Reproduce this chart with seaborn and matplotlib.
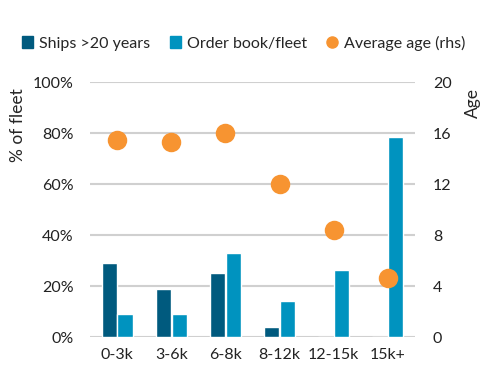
import numpy as np
import pandas as pd
import seaborn as sns
import matplotlib.pyplot as plt
from matplotlib.patches import Patch
from matplotlib.lines import Line2D

sizes = ["0-3k", "3-6k", "6-8k", "8-12k", "12-15k", "15k+"]
ships_over_20 = [29, 19, 25, 4, 0, 0]
order_book = [9, 9, 33, 14, 26.5, 78.5]
avg_age = [15.5, 15.3, 16.0, 12.0, 8.4, 4.6]

DARK = "#005a7e"
LIGHT = "#0093bf"
ORANGE = "#f79431"


def create_plot():
    sns.set_style("white")
    plt.rcParams["font.family"] = ["Lato", "DejaVu Sans"]

    df = pd.DataFrame({
        "size": sizes * 2,
        "value": ships_over_20 + order_book,
        "series": ["Ships >20 years"] * 6 + ["Order book/fleet"] * 6,
    })

    fig, ax = plt.subplots(figsize=(4.87, 3.75), dpi=100)
    fig.subplots_adjust(left=0.185, right=0.852, top=0.781, bottom=0.101)

    sns.barplot(data=df, x="size", y="value", hue="series", order=sizes,
                palette=[DARK, LIGHT], width=0.58, gap=0.04, saturation=1,
                legend=False, ax=ax)
    ax.set_ylim(0, 100)
    ax.set_yticks(range(0, 101, 20))
    ax.set_yticklabels([f"{v}%" for v in range(0, 101, 20)])
    ax.yaxis.grid(True, color="#d0d0d0", linewidth=1.5)
    ax.set_axisbelow(True)
    for s in ax.spines.values():
        s.set_visible(False)
    ax.tick_params(axis="both", length=0, labelsize=11.5, colors="#222222")
    ax.tick_params(axis="y", pad=12)
    ax.tick_params(axis="x", pad=8)
    ax.set_xlabel("")
    ax.set_ylabel("% of fleet", fontsize=12.5, loc="top")
    ax.yaxis.set_label_coords(-0.197, 0.975)

    ax2 = ax.twinx()
    sns.pointplot(x=sizes, y=avg_age, order=sizes, color=ORANGE, markers="o",
                  linestyle="none", markersize=12, ax=ax2)
    ax2.set_ylim(0, 20)
    ax2.set_yticks(range(0, 21, 4))
    for s in ax2.spines.values():
        s.set_visible(False)
    ax2.tick_params(axis="y", length=0, labelsize=11.5, colors="#222222", pad=13)
    ax2.set_ylabel("Age", fontsize=12.5, loc="top")
    ax2.yaxis.set_label_coords(1.155, 0.975)
    ax2.grid(False)

    handles = [
        Patch(color=DARK, label="Ships >20 years"),
        Patch(color=LIGHT, label="Order book/fleet"),
        Line2D([], [], color=ORANGE, marker="o", linestyle="none",
               markersize=8, label="Average age (rhs)"),
    ]
    fig.legend(handles=handles, loc="center", bbox_to_anchor=(0.5, 0.885),
               ncol=3, frameon=False, fontsize=11.5, handlelength=0.7,
               handleheight=0.7, handletextpad=0.4, columnspacing=1.2)

    plt.savefig("out.png", dpi=100)
    plt.close()


def main():
    create_plot()


if __name__ == "__main__":
    main()
